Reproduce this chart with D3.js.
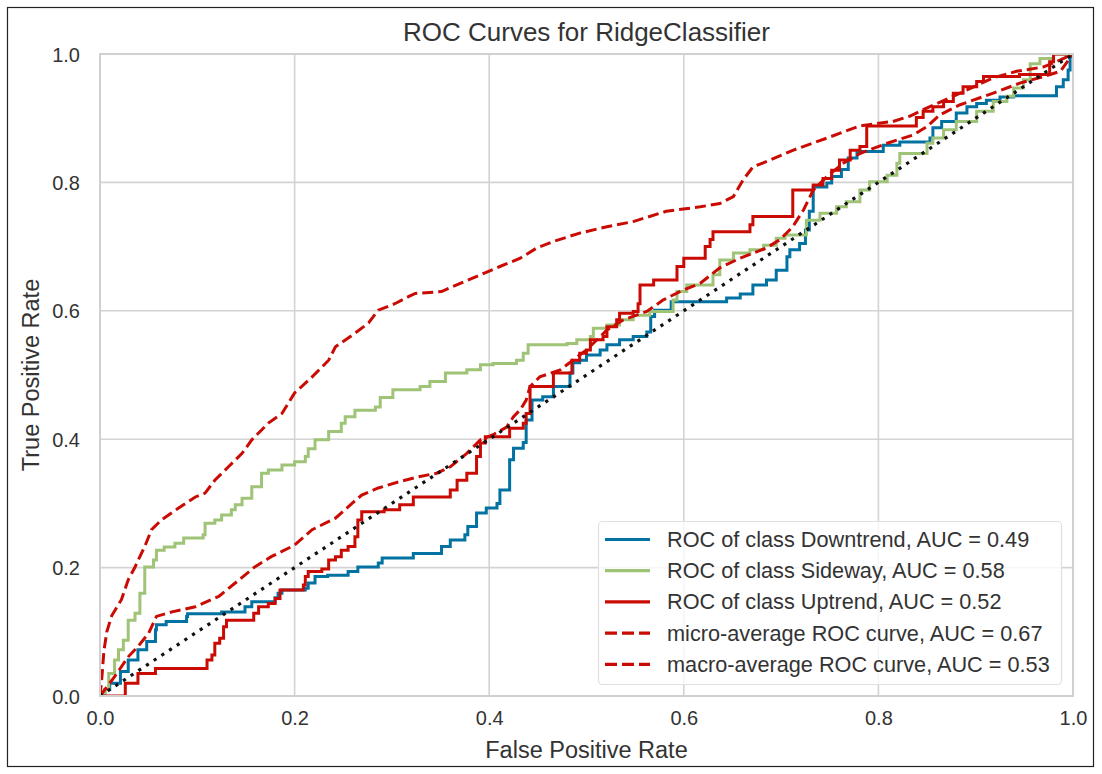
<!DOCTYPE html>
<html>
<head>
<meta charset="utf-8">
<script src="https://cdn.jsdelivr.net/npm/d3@7"></script>
<style>
  body { margin: 0; background: #fff; }
  svg text { font-family: "Liberation Sans", Arial, sans-serif; fill: #333; }
</style>
</head>
<body>
<svg id="chart" width="1102" height="774"></svg>
<script>
// ROC points, [fpr, tpr]
var downtrend = [[0,0],[0.005,0.01],[0.01,0.02],[0.021,0.038],[0.029,0.056],[0.039,0.072],[0.048,0.085],[0.057,0.103],[0.058,0.111],[0.068,0.116],[0.089,0.124],[0.09,0.128],[0.125,0.131],[0.149,0.139],[0.156,0.147],[0.18,0.153],[0.183,0.16],[0.187,0.165],[0.211,0.168],[0.214,0.176],[0.221,0.186],[0.234,0.188],[0.255,0.194],[0.265,0.201],[0.286,0.207],[0.29,0.215],[0.322,0.222],[0.351,0.233],[0.36,0.243],[0.375,0.251],[0.378,0.264],[0.387,0.285],[0.397,0.293],[0.408,0.3],[0.411,0.321],[0.421,0.368],[0.425,0.386],[0.435,0.395],[0.438,0.43],[0.444,0.461],[0.455,0.466],[0.466,0.482],[0.483,0.503],[0.486,0.519],[0.493,0.523],[0.5,0.531],[0.514,0.539],[0.521,0.547],[0.534,0.555],[0.548,0.56],[0.562,0.567],[0.566,0.591],[0.57,0.601],[0.587,0.614],[0.644,0.62],[0.658,0.626],[0.671,0.64],[0.685,0.648],[0.695,0.663],[0.706,0.684],[0.709,0.695],[0.719,0.705],[0.725,0.726],[0.729,0.755],[0.733,0.793],[0.747,0.799],[0.752,0.809],[0.762,0.82],[0.769,0.838],[0.778,0.848],[0.805,0.858],[0.822,0.863],[0.853,0.869],[0.856,0.885],[0.865,0.895],[0.88,0.908],[0.891,0.918],[0.901,0.923],[0.911,0.928],[0.925,0.933],[0.939,0.935],[0.983,0.949],[0.99,0.96],[0.995,0.975],[0.997,0.996],[1,1]]

var sideway = [[0,0],[0.005,0.01],[0.009,0.035],[0.015,0.056],[0.019,0.072],[0.024,0.087],[0.029,0.118],[0.036,0.129],[0.041,0.16],[0.046,0.201],[0.055,0.212],[0.058,0.227],[0.066,0.232],[0.077,0.238],[0.086,0.246],[0.106,0.251],[0.108,0.269],[0.118,0.274],[0.125,0.282],[0.135,0.29],[0.139,0.298],[0.146,0.308],[0.156,0.326],[0.166,0.347],[0.173,0.352],[0.187,0.36],[0.2,0.365],[0.211,0.373],[0.214,0.385],[0.221,0.399],[0.235,0.412],[0.248,0.425],[0.252,0.435],[0.262,0.445],[0.283,0.45],[0.288,0.465],[0.301,0.477],[0.329,0.482],[0.339,0.49],[0.355,0.503],[0.377,0.508],[0.391,0.516],[0.404,0.518],[0.428,0.523],[0.435,0.534],[0.44,0.547],[0.48,0.549],[0.49,0.555],[0.504,0.56],[0.507,0.573],[0.521,0.578],[0.534,0.586],[0.548,0.593],[0.565,0.599],[0.589,0.617],[0.593,0.63],[0.603,0.64],[0.63,0.656],[0.637,0.679],[0.651,0.69],[0.668,0.695],[0.682,0.702],[0.695,0.713],[0.704,0.718],[0.726,0.741],[0.74,0.752],[0.757,0.762],[0.767,0.77],[0.781,0.788],[0.791,0.801],[0.809,0.811],[0.819,0.83],[0.822,0.845],[0.85,0.861],[0.856,0.869],[0.867,0.882],[0.88,0.895],[0.901,0.911],[0.918,0.926],[0.932,0.934],[0.939,0.947],[0.949,0.96],[0.956,0.985],[0.966,0.993],[0.98,1],[1,1]]

var uptrend = [[0,0],[0.026,0.02],[0.039,0.035],[0.057,0.043],[0.11,0.056],[0.115,0.064],[0.118,0.082],[0.123,0.09],[0.127,0.108],[0.13,0.118],[0.158,0.129],[0.163,0.139],[0.173,0.144],[0.18,0.152],[0.185,0.165],[0.209,0.173],[0.211,0.186],[0.214,0.194],[0.228,0.198],[0.235,0.212],[0.242,0.217],[0.248,0.227],[0.255,0.233],[0.262,0.248],[0.265,0.274],[0.269,0.287],[0.292,0.29],[0.308,0.298],[0.322,0.31],[0.36,0.321],[0.367,0.336],[0.377,0.347],[0.387,0.373],[0.391,0.394],[0.396,0.404],[0.421,0.417],[0.435,0.425],[0.438,0.44],[0.442,0.482],[0.466,0.503],[0.485,0.523],[0.493,0.534],[0.5,0.539],[0.504,0.555],[0.517,0.56],[0.521,0.575],[0.531,0.586],[0.534,0.596],[0.548,0.599],[0.553,0.611],[0.555,0.64],[0.569,0.648],[0.593,0.669],[0.6,0.682],[0.622,0.7],[0.627,0.711],[0.63,0.723],[0.668,0.734],[0.671,0.747],[0.712,0.788],[0.733,0.796],[0.743,0.806],[0.752,0.819],[0.76,0.835],[0.771,0.85],[0.781,0.856],[0.788,0.888],[0.839,0.901],[0.846,0.911],[0.856,0.918],[0.867,0.926],[0.877,0.939],[0.887,0.949],[0.901,0.957],[0.908,0.965],[0.945,0.968],[0.976,0.988],[0.98,1],[1,1]]

var microAvg = [[0,0],[0.002,0.03],[0.004,0.07],[0.007,0.1],[0.012,0.125],[0.022,0.15],[0.029,0.181],[0.036,0.201],[0.046,0.233],[0.053,0.259],[0.063,0.274],[0.08,0.292],[0.098,0.31],[0.108,0.316],[0.118,0.336],[0.132,0.357],[0.146,0.378],[0.156,0.399],[0.173,0.425],[0.187,0.44],[0.2,0.472],[0.218,0.497],[0.235,0.523],[0.242,0.544],[0.262,0.565],[0.276,0.581],[0.286,0.601],[0.303,0.611],[0.317,0.622],[0.324,0.627],[0.351,0.63],[0.363,0.638],[0.391,0.656],[0.411,0.669],[0.432,0.682],[0.449,0.698],[0.466,0.708],[0.493,0.721],[0.521,0.731],[0.548,0.739],[0.582,0.755],[0.617,0.762],[0.637,0.767],[0.651,0.778],[0.661,0.804],[0.671,0.824],[0.689,0.835],[0.712,0.85],[0.747,0.869],[0.781,0.888],[0.815,0.895],[0.832,0.903],[0.85,0.916],[0.884,0.939],[0.918,0.963],[0.942,0.973],[0.97,0.98],[0.986,0.99],[1,1]]

var macroAvg = [[0,0],[0.015,0.03],[0.029,0.061],[0.039,0.077],[0.05,0.098],[0.058,0.124],[0.074,0.131],[0.098,0.139],[0.122,0.155],[0.139,0.176],[0.159,0.201],[0.176,0.217],[0.2,0.235],[0.218,0.259],[0.242,0.277],[0.259,0.3],[0.269,0.313],[0.286,0.324],[0.308,0.334],[0.329,0.342],[0.346,0.347],[0.36,0.357],[0.377,0.378],[0.391,0.399],[0.404,0.407],[0.418,0.419],[0.425,0.435],[0.432,0.446],[0.438,0.461],[0.442,0.482],[0.452,0.497],[0.473,0.508],[0.486,0.523],[0.5,0.539],[0.521,0.57],[0.538,0.586],[0.562,0.599],[0.579,0.617],[0.596,0.63],[0.617,0.643],[0.637,0.667],[0.658,0.682],[0.685,0.698],[0.699,0.711],[0.712,0.731],[0.723,0.757],[0.733,0.788],[0.747,0.809],[0.764,0.83],[0.781,0.845],[0.809,0.861],[0.836,0.874],[0.85,0.887],[0.863,0.905],[0.884,0.921],[0.918,0.939],[0.946,0.955],[0.97,0.965],[0.987,0.973],[1,1]]

var diagonal = [[0,0],[1,1]]
var tickValues = [0, 0.2, 0.4, 0.6, 0.8, 1.0]

var series = [
  {name: "ROC of class Downtrend, AUC = 0.49", data: downtrend, color: "#0272a2", dash: null, step: true},
  {name: "ROC of class Sideway, AUC = 0.58", data: sideway, color: "#9fc377", dash: null, step: true},
  {name: "ROC of class Uptrend, AUC = 0.52", data: uptrend, color: "#ca0b03", dash: null, step: true},
  {name: "micro-average ROC curve, AUC = 0.67", data: microAvg, color: "#ca0b03", dash: "11,5", step: false},
  {name: "macro-average ROC curve, AUC = 0.53", data: macroAvg, color: "#ca0b03", dash: "11,5", step: false}
]

var margin = {top: 54, right: 29, bottom: 78, left: 100}
var width = 1102, height = 774
var svg = d3.select("#chart")

// figure frame
svg.append("rect")
  .attr("x", 7.5).attr("y", 7.5)
  .attr("width", 1086).attr("height", 759)
  .attr("fill", "#fff").attr("stroke", "#222").attr("stroke-width", 1.2)

var xScale = d3.scaleLinear().domain([0, 1]).range([margin.left, width - margin.right])
var yScale = d3.scaleLinear().domain([0, 1]).range([height - margin.bottom, margin.top])

svg.append("defs").append("clipPath").attr("id", "plotClip")
  .append("rect")
    .attr("x", xScale(0)).attr("y", yScale(1))
    .attr("width", xScale(1) - xScale(0)).attr("height", yScale(0) - yScale(1))

// grid
var grid = svg.append("g")
grid.selectAll(".gx").data(tickValues).enter().append("line")
  .attr("x1", d => xScale(d)).attr("x2", d => xScale(d))
  .attr("y1", yScale(0)).attr("y2", yScale(1))
  .attr("stroke", "#d3d3d3").attr("stroke-width", 1.6)
grid.selectAll(".gy").data(tickValues).enter().append("line")
  .attr("y1", d => yScale(d)).attr("y2", d => yScale(d))
  .attr("x1", xScale(0)).attr("x2", xScale(1))
  .attr("stroke", "#d3d3d3").attr("stroke-width", 1.6)

// axes (labels only, no tick marks)
var xAxis = svg.append("g")
  .attr("transform", "translate(0," + (yScale(0) + 8) + ")")
  .call(d3.axisBottom(xScale).tickValues(tickValues).tickFormat(d3.format(".1f")).tickSize(0))
var yAxis = svg.append("g")
  .attr("transform", "translate(" + (xScale(0) - 17) + ",0)")
  .call(d3.axisLeft(yScale).tickValues(tickValues).tickFormat(d3.format(".1f")).tickSize(0))
xAxis.select(".domain").remove()
yAxis.select(".domain").remove()
xAxis.selectAll("text").attr("font-size", 20).attr("dy", "0.9em")
  .style("font-family", "Liberation Sans, Arial, sans-serif").attr("fill", "#333")
yAxis.selectAll("text").attr("font-size", 20).attr("dy", "0.35em")
  .style("font-family", "Liberation Sans, Arial, sans-serif").attr("fill", "#333")

// curves
var plot = svg.append("g").attr("clip-path", "url(#plotClip)")
var stepLine = d3.line().curve(d3.curveStepAfter).x(d => xScale(d[0])).y(d => yScale(d[1]))
var plainLine = d3.line().x(d => xScale(d[0])).y(d => yScale(d[1]))

series.forEach(function(s) {
  plot.append("path")
    .datum(s.data)
    .attr("d", s.step ? stepLine : plainLine)
    .attr("fill", "none")
    .attr("stroke", s.color)
    .attr("stroke-width", 3)
    .attr("stroke-dasharray", s.dash)
})

plot.append("path")
  .datum(diagonal)
  .attr("d", plainLine)
  .attr("fill", "none")
  .attr("stroke", "#111")
  .attr("stroke-width", 3.2)
  .attr("stroke-dasharray", "3.2,6")

// spines
svg.append("rect")
  .attr("x", xScale(0)).attr("y", yScale(1))
  .attr("width", xScale(1) - xScale(0)).attr("height", yScale(0) - yScale(1))
  .attr("fill", "none").attr("stroke", "#d0d0d0").attr("stroke-width", 2)

// title and axis labels
svg.append("text")
  .attr("x", (xScale(0) + xScale(1)) / 2).attr("y", 41)
  .attr("text-anchor", "middle").attr("font-size", 26)
  .text("ROC Curves for RidgeClassifier")
svg.append("text")
  .attr("x", (xScale(0) + xScale(1)) / 2).attr("y", 758)
  .attr("text-anchor", "middle").attr("font-size", 23.5)
  .text("False Positive Rate")
svg.append("text")
  .attr("transform", "translate(39," + ((yScale(0) + yScale(1)) / 2) + ") rotate(-90)")
  .attr("text-anchor", "middle").attr("font-size", 23.5)
  .text("True Positive Rate")

// legend
var legend = svg.append("g")
legend.append("rect")
  .attr("x", 598.5).attr("y", 521.5).attr("width", 463).attr("height", 163).attr("rx", 4)
  .attr("fill", "#fff").attr("fill-opacity", 0.8)
  .attr("stroke", "#e0e0e0").attr("stroke-width", 1.2)

series.forEach(function(s, i) {
  var yRow = 539.5 + i * 31.2
  legend.append("line")
    .attr("x1", 605).attr("x2", 650).attr("y1", yRow).attr("y2", yRow)
    .attr("stroke", s.color).attr("stroke-width", 3.2)
    .attr("stroke-dasharray", s.dash ? "12,5" : null)
  legend.append("text")
    .attr("x", 667).attr("y", yRow).attr("dy", "0.35em")
    .attr("font-size", 21.7)
    .text(s.name)
})
</script>
</body>
</html>
